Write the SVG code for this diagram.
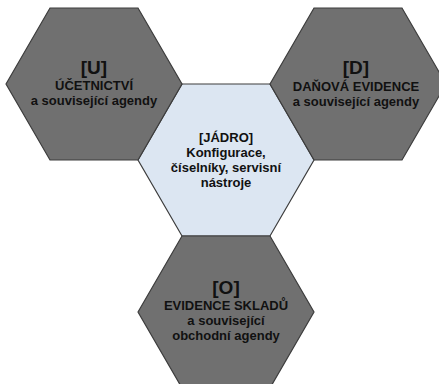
<svg xmlns="http://www.w3.org/2000/svg" width="439" height="384" viewBox="0 0 439 384">
<style>
.hex{fill:#707070;stroke:#3c3c3c;stroke-width:1.2}
.core{fill:#dce6f2;stroke:#3c3c3c;stroke-width:1.2}
text{font-family:"Liberation Sans",Arial,sans-serif;font-weight:bold;fill:#111;text-anchor:middle}
.big{font-size:19px}
.t{font-size:13px}
</style>
<rect width="439" height="384" fill="#ffffff"/>
<g id="core">
<polygon class="core" points="138,160 182,84 270,84 314,160 270,236 182,236"/>
<text class="t" x="226" y="142">[JÁDRO]</text>
<text class="t" x="226" y="157">Konfigurace,</text>
<text class="t" x="226" y="172">číselníky, servisní</text>
<text class="t" x="226" y="187">nástroje</text>
</g>
<g id="U">
<polygon class="hex" points="6,84 50,8 138,8 182,84 138,160 50,160"/>
<text class="big" x="94" y="74">[U]</text>
<text class="t" x="94" y="90">ÚČETNICTVÍ</text>
<text class="t" x="94" y="105">a související agendy</text>
</g>
<g id="D">
<polygon class="hex" points="270,84 314,8 402,8 446,84 402,160 314,160"/>
<text class="big" x="356" y="74">[D]</text>
<text class="t" x="356" y="91">DAŇOVÁ EVIDENCE</text>
<text class="t" x="356" y="106">a související agendy</text>
</g>
<g id="O">
<polygon class="hex" points="138,312 182,236 270,236 314,312 270,388 182,388"/>
<text class="big" x="226" y="294">[O]</text>
<text class="t" x="226" y="310">EVIDENCE SKLADŮ</text>
<text class="t" x="226" y="325">a související</text>
<text class="t" x="226" y="340">obchodní agendy</text>
</g>
<g id="connectors"/>
</svg>
